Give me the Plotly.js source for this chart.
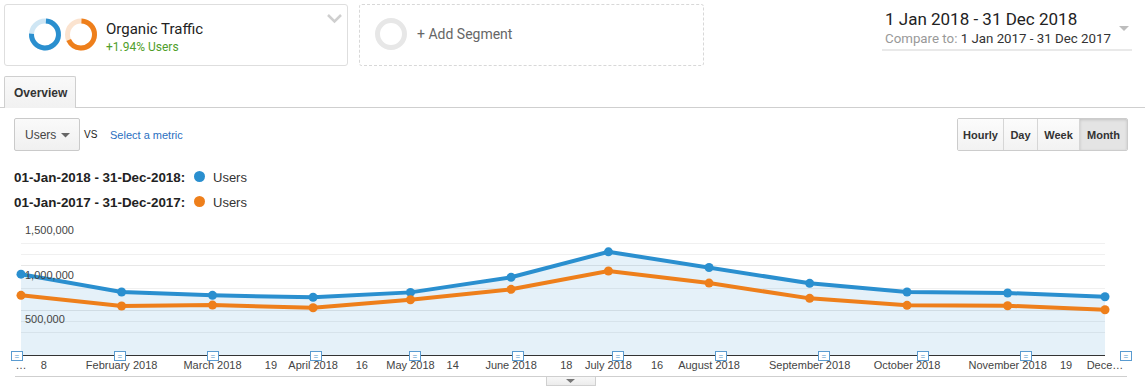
<!DOCTYPE html>
<html>
<head>
<meta charset="utf-8">
<script src="https://cdn.plot.ly/plotly-3.0.1.min.js"></script>
<style>
  html, body { margin:0; padding:0; background:#fff; width:1145px; height:391px; overflow:hidden; }
  body { position:relative; font-family: Roboto, Arial, sans-serif; }
  .abs { position:absolute; }
  .seg { left:4px; top:4px; width:342px; height:60px; border:1px solid #dedede; border-radius:3px; }
  .seg2 { left:359px; top:4px; width:343px; height:60px; border:1px dashed #d8d8d8; border-radius:3px; }
  .t1 { left:106px; top:20px; font-size:15px; color:#222; white-space:nowrap; }
  .t2 { left:106px; top:40px; font-size:12px; color:#4f9e2a; white-space:nowrap; }
  .add { left:417px; top:26px; font-size:14px; color:#666; white-space:nowrap; }
  .date1 { left:885px; top:9px; font-size:17px; color:#222; white-space:nowrap; }
  .date2 { left:885px; top:31px; font-size:13.3px; color:#999; white-space:nowrap; }
  .date2 span { color:#333; }
  .uline { left:882px; top:49px; width:250px; height:2px; background:#e9e9e9; }
  .tab { left:4px; top:76px; width:70px; height:31px; border:1px solid #cfcfcf; border-bottom:none; border-radius:2px 2px 0 0;
         background:linear-gradient(#f9f9f9,#f1f1f1); font-family:Arial, sans-serif; font-weight:bold; font-size:12px; color:#333;
         line-height:32px; text-indent:9px; }
  .tabline { left:0; top:107px; width:1145px; height:1px; background:#cfcfcf; }
  .dd { left:14px; top:118px; width:64px; height:31px; border:1px solid #cacaca; border-radius:2px; background:linear-gradient(#fafafa,#f0f0f0);
        font-family:Arial, sans-serif; font-size:12px; color:#444; line-height:33px; text-indent:10px; }
  .vs { left:84px; top:129px; font-family:Arial, sans-serif; font-size:10px; color:#222; }
  .sel { left:110px; top:129px; font-family:Arial, sans-serif; font-size:11px; color:#2a6fbf; white-space:nowrap; }
  .leg { left:14px; font-family:Arial, sans-serif; font-size:13.4px; font-weight:bold; color:#222; white-space:nowrap; }
  .legu { left:213px; font-family:Arial, sans-serif; font-size:13px; color:#333; }
  .dot { width:11px; height:11px; border-radius:50%; left:194px; }
  .btns { left:957px; top:118px; height:31px; border:1px solid #cccccc; border-radius:2px; display:flex; overflow:hidden;
          font-family:Arial, sans-serif; font-weight:bold; font-size:11px; color:#333; }
  .btns div { height:31px; line-height:33px; text-align:center; background:linear-gradient(#fcfcfc,#f2f2f2); border-right:1px solid #d6d6d6; }
  .btns div:last-child { border-right:none; background:#e4e4e4; box-shadow: inset 0 1px 3px rgba(0,0,0,0.15); }
  .bline { left:15px; top:376px; width:1112px; height:1px; background:#cfcfcf; }
  .btab { left:546px; top:377px; width:48px; height:8px; border:1px solid #d0d0d0; border-top:none; background:linear-gradient(#f7f7f7,#ececec); }
  #chart { left:0; top:200px; width:1145px; height:191px; }
</style>
</head>
<body>
<div class="abs seg"></div>
<svg class="abs" style="left:25px;top:14px" width="80" height="42">
  <g transform="translate(20,20.5)">
    <circle r="13.5" fill="none" stroke="#cfe6f4" stroke-width="5"/>
    <circle r="13.5" fill="none" stroke="#2a8fcf" stroke-width="5" stroke-dasharray="63 100" transform="rotate(-86)"/>
  </g>
  <g transform="translate(56,20.5)">
    <circle r="13.5" fill="none" stroke="#fbe3cf" stroke-width="5"/>
    <circle r="13.5" fill="none" stroke="#ee7f1b" stroke-width="5" stroke-dasharray="57 100" transform="rotate(-88)"/>
  </g>
</svg>
<div class="abs t1">Organic Traffic</div>
<div class="abs t2">+1.94% Users</div>
<svg class="abs" style="left:326px;top:13px" width="18" height="12">
  <polyline points="2,2 8.5,8.5 15,2" fill="none" stroke="#cfcfcf" stroke-width="2.5"/>
</svg>

<div class="abs seg2"></div>
<svg class="abs" style="left:373px;top:16px" width="36" height="36">
  <circle cx="18" cy="18" r="13.5" fill="none" stroke="#e7e7e7" stroke-width="5"/>
</svg>
<div class="abs add">+ Add Segment</div>

<div class="abs date1">1 Jan 2018 - 31 Dec 2018</div>
<div class="abs date2">Compare to: <span>1 Jan 2017 - 31 Dec 2017</span></div>
<div class="abs uline"></div>
<svg class="abs" style="left:1118px;top:25px" width="12" height="8"><polygon points="1,1 11,1 6,6" fill="#bdbdbd"/></svg>

<div class="abs tabline"></div>
<div class="abs tab">Overview</div>

<div class="abs dd">Users</div>
<svg class="abs" style="left:61px;top:132px" width="10" height="7"><polygon points="0,1 9,1 4.5,5.5" fill="#666"/></svg>
<div class="abs vs">VS</div>
<div class="abs sel">Select a metric</div>

<div class="abs leg" style="top:170px">01-Jan-2018 - 31-Dec-2018:</div>
<div class="abs dot" style="top:171px;background:#2a8fcf"></div>
<div class="abs legu" style="top:170px">Users</div>
<div class="abs leg" style="top:195px">01-Jan-2017 - 31-Dec-2017:</div>
<div class="abs dot" style="top:196px;background:#ee7f1b"></div>
<div class="abs legu" style="top:195px">Users</div>

<div class="abs btns">
  <div style="width:45px">Hourly</div>
  <div style="width:33px">Day</div>
  <div style="width:41px">Week</div>
  <div style="width:47px">Month</div>
</div>

<div class="abs" id="chart"></div>

<div class="abs bline"></div>
<div class="abs btab"></div>
<svg class="abs" style="left:566px;top:379px" width="10" height="6"><polygon points="0,0 9,0 4.5,4" fill="#777"/></svg>

<script>
// ---- data ----
const months = ['2018-01-01','2018-02-01','2018-03-01','2018-04-01','2018-05-01','2018-06-01',
                '2018-07-01','2018-08-01','2018-09-01','2018-10-01','2018-11-01','2018-12-01'];
const users2018 = [905000, 705000, 668000, 646000, 701000, 870000, 1155000, 980000, 802000, 705000, 694000, 652000];
const users2017 = [668000, 548000, 559000, 529000, 619000, 735000, 940000, 805000, 634000, 556000, 551000, 507000];
const xTickVals = ['2018-01-01','2018-01-08','2018-02-01','2018-03-01','2018-03-19','2018-04-01','2018-04-16',
                   '2018-05-01','2018-05-14','2018-06-01','2018-06-18','2018-07-01','2018-07-16','2018-08-01',
                   '2018-09-01','2018-10-01','2018-11-01','2018-11-19','2018-12-01'];
const xTickText = ['…','8','February 2018','March 2018','19','April 2018','16','May 2018','14','June 2018','18',
                   'July 2018','16','August 2018','September 2018','October 2018','November 2018','19','Dece…'];
const yTickVals = [500000, 1000000, 1500000];
const yTickText = ['500,000', '1,000,000', '1,500,000'];
const yMinorVals = [250000, 375000, 750000, 1125000, 1250000];

const BLUE = '#2a8fcf', ORANGE = '#ee7f1b';

// annotation-marker timeline (icons sit on a slightly wider scale than the plot)
const plotL = 21, plotR = 40, W = 1145;
const plotW = W - plotL - plotR;
const iconPx0 = 17, iconPx1 = 1126;
const t0 = Date.parse(months[0] + 'T00:00:00Z'), t1 = Date.parse(months[months.length-1] + 'T00:00:00Z');
const iconFrac = m => (iconPx0 + (Date.parse(m + 'T00:00:00Z') - t0) * (iconPx1 - iconPx0) / (t1 - t0) - plotL) / plotW;

const traces = [
  { x: months, y: users2018, type:'scatter', mode:'lines+markers', fill:'tozeroy',
    fillcolor:'rgba(42,143,207,0.12)', line:{color:BLUE, width:4}, marker:{color:BLUE, size:9},
    cliponaxis:false, hoverinfo:'none' },
  { x: months, y: users2017, type:'scatter', mode:'lines+markers',
    line:{color:ORANGE, width:4}, marker:{color:ORANGE, size:9}, cliponaxis:false, hoverinfo:'none' }
];

const iconAnns = months.map(m => ({
  xref:'paper', yref:'y', x:iconFrac(m), y:0, text:'=', showarrow:false,
  font:{family:'Arial', size:8, color:'#4a90c8'}, bgcolor:'#ffffff', bordercolor:'#5a9bd0',
  borderwidth:1, borderpad:0, width:10, height:8, xanchor:'center', yanchor:'middle', yshift:-1
}));
const yLabelAnns = yTickVals.map((v, i) => ({
  xref:'paper', yref:'y', x:0, y:v, text:yTickText[i], showarrow:false,
  font:{family:'Arial', size:11, color:'#444'}, xanchor:'left', yanchor:'top', xshift:2, yshift:-1
}));

const layout = {
  width: W, height: 191,
  margin: {l: plotL, r: plotR, t: 21, b: 36, pad: 0},
  paper_bgcolor:'rgba(0,0,0,0)', plot_bgcolor:'rgba(0,0,0,0)',
  showlegend:false,
  xaxis: {
    type:'date', range:[months[0], months[months.length-1]],
    tickmode:'array', tickvals:xTickVals, ticktext:xTickText,
    ticks:'', showgrid:false, zeroline:false, showline:true, linecolor:'#333', linewidth:1,
    tickfont:{family:'Arial', size:11, color:'#444'}, fixedrange:true
  },
  yaxis: {
    range:[0, 1500000], tickmode:'array', tickvals:yTickVals, ticktext:yTickText, showticklabels:false,
    ticks:'', showgrid:true, gridcolor:'#e7e7e7', gridwidth:1, zeroline:false, showline:false,
    minor:{tickvals:yMinorVals, showgrid:true, gridcolor:'#f0f0f0', ticks:''},
    fixedrange:true
  },
  annotations: iconAnns.concat(yLabelAnns)
};

Plotly.newPlot('chart', traces, layout, {displayModeBar:false, staticPlot:true});
</script>
</body>
</html>
